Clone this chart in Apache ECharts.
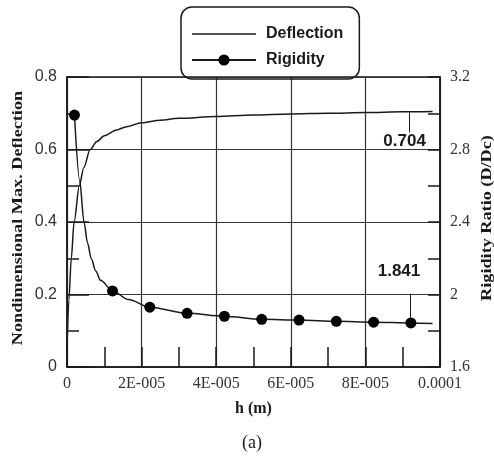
<!DOCTYPE html>
<html>
<head>
<meta charset="utf-8">
<script src="https://cdn.jsdelivr.net/npm/echarts@6/dist/echarts.min.js"></script>
<style>
html,body{margin:0;padding:0;background:#fff;}
#c{width:494px;height:459px;}
</style>
</head>
<body>
<div id="c"></div>
<script>
// ---- data ----
const deflectionH = [0, 0.5e-6, 1.15e-6, 1.9e-6, 3.3e-6, 4.5e-6, 6.2e-6, 8e-6, 1e-5, 1.33e-5, 1.6e-5, 2e-5, 2.5e-5, 3e-5, 4e-5, 5e-5, 6e-5, 7e-5, 8e-5, 9e-5, 9.8e-5];
const deflection  = [0.05, 0.185, 0.30, 0.40, 0.50, 0.55, 0.60, 0.622, 0.638, 0.654, 0.663, 0.674, 0.681, 0.686, 0.691, 0.695, 0.698, 0.700, 0.702, 0.704, 0.705];

const rigidityMarkH = [2e-6, 1.22e-5, 2.22e-5, 3.22e-5, 4.22e-5, 5.22e-5, 6.22e-5, 7.22e-5, 8.22e-5, 9.22e-5];
const rigidityMark  = [2.99, 2.02, 1.93, 1.896, 1.880, 1.863, 1.859, 1.852, 1.847, 1.843];
const rigidityCurveH = [3.4e-6, 4.56e-6, 5.5e-6, 6.5e-6, 7.7e-6, 9.0e-6, 1.65e-5, 9.8e-5];
const rigidityCurve  = [2.63, 2.40, 2.285, 2.198, 2.13, 2.078, 1.972, 1.840];

const xTickLabels = ['0', '2E-005', '4E-005', '6E-005', '8E-005', '0.0001'];
const yLeftTickLabels = ['0', '0.2', '0.4', '0.6', '0.8'];
const yRightTickLabels = ['1.6', '2', '2.4', '2.8', '3.2'];

const deflectionNote = {h: 9.18e-5, from: 0.647, to: 0.703, text: '0.704', labelH: 9.05e-5, labelY: 0.623};
const rigidityNote = {h: 9.2e-5, from: 2.005, to: 1.867, text: '1.841', labelH: 8.9e-5, labelY: 2.13};

// ---- build ----
const defData = deflectionH.map((h, i) => [h, deflection[i]]);
const rigData = rigidityMarkH.map((h, i) => ({value: [h, rigidityMark[i]]}))
  .concat(rigidityCurveH.map((h, i) => ({value: [h, rigidityCurve[i]], symbol: 'none'})))
  .sort((a, b) => a.value[0] - b.value[0]);

const chart = echarts.init(document.getElementById('c'));
const serif = 'Liberation Serif';
const sans = 'Liberation Sans';
const ink = '#1a1a1a';

chart.setOption({
  animation: false,
  backgroundColor: '#fff',
  grid: {left: 67, right: 54, top: 77, bottom: 92, containLabel: false, outerBoundsMode: 'none',
    show: true, borderColor: ink, borderWidth: 1.5, backgroundColor: 'transparent'},
  legend: {
    left: 181, top: 7, orient: 'vertical',
    borderColor: ink, borderWidth: 1.5, borderRadius: 11,
    padding: [19, 16, 11, 10], itemGap: 10,
    itemWidth: 64, itemHeight: 14,
    textStyle: {fontFamily: sans, fontWeight: 'bold', fontSize: 16, color: ink, padding: [0, 0, 0, 5]},
    data: [{name: 'Deflection', icon: 'path://M0,0 L64,0 L64,1.5 L0,1.5 Z'}, 'Rigidity']
  },
  xAxis: {
    type: 'value', min: 0, max: 1e-4, interval: 2e-5,
    name: 'h (m)', nameLocation: 'middle', nameGap: 34,
    nameTextStyle: {fontFamily: serif, fontWeight: 'bold', fontSize: 16, color: ink},
    axisLine: {lineStyle: {color: ink, width: 1.5}},
    axisTick: {inside: true, length: 20, lineStyle: {color: ink, width: 1.5}},
    minorTick: {show: true, splitNumber: 2, length: 20, lineStyle: {color: ink, width: 1.5}},
    splitLine: {show: true, lineStyle: {color: '#333', width: 1.2}},
    axisLabel: {fontFamily: serif, fontSize: 16, color: '#333', margin: 9,
      formatter: v => xTickLabels[Math.round(v / 2e-5)]}
  },
  yAxis: [{
    type: 'value', min: 0, max: 0.8, interval: 0.2, position: 'left',
    axisLine: {show: true, lineStyle: {color: ink, width: 1.5}},
    axisTick: {show: true, inside: true, length: 22, lineStyle: {color: ink, width: 1.5}},
    minorTick: {show: true, splitNumber: 2, length: 12, lineStyle: {color: ink, width: 1.5}},
    splitLine: {show: true, lineStyle: {color: '#333', width: 1.2}},
    axisLabel: {fontFamily: sans, fontSize: 16, color: '#333', margin: 10,
      formatter: v => yLeftTickLabels[Math.round(v / 0.2)]}
  }, {
    type: 'value', min: 1.6, max: 3.2, interval: 0.4, position: 'right',
    axisLine: {show: true, lineStyle: {color: ink, width: 1.5}},
    axisTick: {show: true, inside: true, length: 12, lineStyle: {color: ink, width: 1.5}},
    minorTick: {show: true, splitNumber: 2, length: 12, lineStyle: {color: ink, width: 1.5}},
    splitLine: {show: false},
    axisLabel: {fontFamily: serif, fontSize: 16, color: '#333', margin: 10,
      formatter: v => yRightTickLabels[Math.round((v - 1.6) / 0.4)]}
  }],
  series: [{
    name: 'Deflection', type: 'line', yAxisIndex: 0, data: defData,
    symbol: 'none', smooth: 0.3, smoothMonotone: 'x',
    lineStyle: {color: ink, width: 1.5}, itemStyle: {color: ink},
    markLine: {
      silent: true, symbol: ['none', 'arrow'], symbolSize: [0, 8],
      lineStyle: {color: ink, width: 1, type: 'solid'}, label: {show: false},
      data: [[{coord: [deflectionNote.h, deflectionNote.from]}, {coord: [deflectionNote.h, deflectionNote.to]}]]
    },
    markPoint: {
      silent: true, symbol: 'circle', symbolSize: 1, itemStyle: {color: 'rgba(0,0,0,0)'},
      label: {show: true, position: 'inside', fontFamily: sans, fontWeight: 'bold', fontSize: 17, color: ink, formatter: deflectionNote.text},
      data: [{coord: [deflectionNote.labelH, deflectionNote.labelY]}]
    }
  }, {
    name: 'Rigidity', type: 'line', yAxisIndex: 1, data: rigData,
    symbol: 'circle', symbolSize: 11, showAllSymbol: true,
    smooth: 0.3, smoothMonotone: 'x',
    lineStyle: {color: ink, width: 1.5}, itemStyle: {color: '#000'},
    markLine: {
      silent: true, symbol: ['none', 'arrow'], symbolSize: [0, 8],
      lineStyle: {color: ink, width: 1, type: 'solid'}, label: {show: false},
      data: [[{coord: [rigidityNote.h, rigidityNote.from]}, {coord: [rigidityNote.h, rigidityNote.to]}]]
    },
    markPoint: {
      silent: true, symbol: 'circle', symbolSize: 1, itemStyle: {color: 'rgba(0,0,0,0)'},
      label: {show: true, position: 'inside', fontFamily: sans, fontWeight: 'bold', fontSize: 17, color: ink, formatter: rigidityNote.text},
      data: [{coord: [rigidityNote.labelH, rigidityNote.labelY]}]
    }
  }],
  graphic: [{
    type: 'text', x: 18, y: 218, rotation: Math.PI / 2, scaleX: 1.3,
    style: {text: 'Nondimensional Max. Deflection', fontFamily: serif, fontWeight: 'bold', fontSize: 14, fill: ink,
      textAlign: 'center', textVerticalAlign: 'middle'}
  }, {
    type: 'text', x: 487, y: 218, rotation: Math.PI / 2, scaleX: 1.3,
    style: {text: 'Rigidity Ratio (D/Dc)', fontFamily: serif, fontWeight: 'bold', fontSize: 14, fill: ink,
      textAlign: 'center', textVerticalAlign: 'middle'}
  }, {
    type: 'text', x: 252, y: 443,
    style: {text: '(a)', fontFamily: serif, fontSize: 18, fill: ink, textAlign: 'center', textVerticalAlign: 'middle'}
  }]
});
</script>
</body>
</html>
